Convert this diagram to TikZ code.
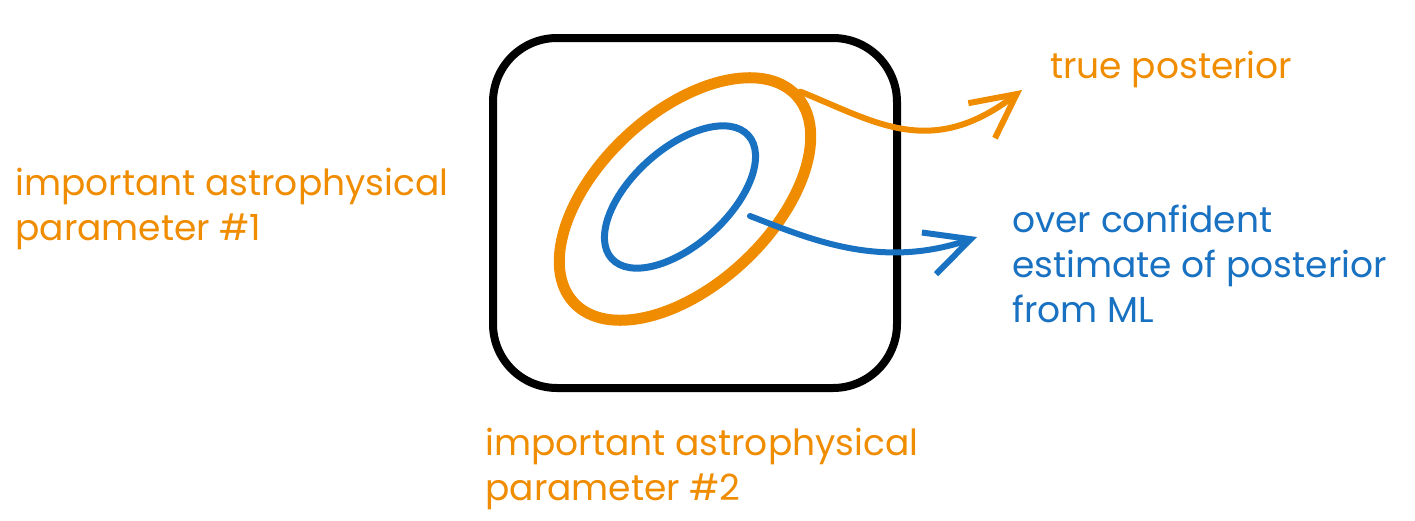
\documentclass[tikz,border=0pt]{standalone}
\usepackage{fontspec}
\setmainfont{Poppins}
\usetikzlibrary{arrows.meta,positioning,shapes.geometric}
\definecolor{xorange}{RGB}{240,140,0}
\definecolor{xblue}{RGB}{25,113,194}

\begin{document}
\begin{tikzpicture}[
  x=0.5pt, y=-0.5pt,
  font=\fontsize{18}{22.5}\selectfont,
  lbl/.style={anchor=base west, align=left, inner sep=0pt},
  contour/.style={ellipse, draw, inner sep=0pt},
  arr/.style={-{Straight Barb[length=22pt, width=22pt]}, line width=3pt,
              line cap=round, line join=round}
]
\useasboundingbox (0,0) rectangle (1415,520);

\node[draw, line width=4pt, rounded corners=32pt, minimum width=202pt,
      minimum height=175pt] (box) at (695,213) {};

\node[contour, draw=xorange, line width=5.5pt, minimum width=152pt,
      minimum height=86pt, rotate=43] (truepost) at (685,199) {};
\node[contour, draw=xblue, line width=3.5pt, minimum width=92pt,
      minimum height=48pt, rotate=42] (mlpost) at (680,197) {};

% base west of a multi-line label is on its last line
\node[lbl, text=xorange] (param1) at (15,240) {important astrophysical\\parameter \#1};
\node[lbl, text=xorange] (param2) at (485,500) {important astrophysical\\parameter \#2};
\node[lbl, text=xorange] (truelbl) at (1050,78) {true posterior};
\node[lbl, text=xblue] (mllbl) at (1012,322) {over confident\\estimate of posterior\\from ML};

\draw[arr, xorange] (truepost.east) .. controls +(75,30) and +(-92,70)
      .. ([shift={(-28,12)}]truelbl.base west);
\draw[arr, xblue] ([shift={(14,4)}]mlpost.-57) .. controls +(60,23) and +(-97,33)
      .. ([shift={(-35,-85)}]mllbl.base west);
\end{tikzpicture}
\end{document}
